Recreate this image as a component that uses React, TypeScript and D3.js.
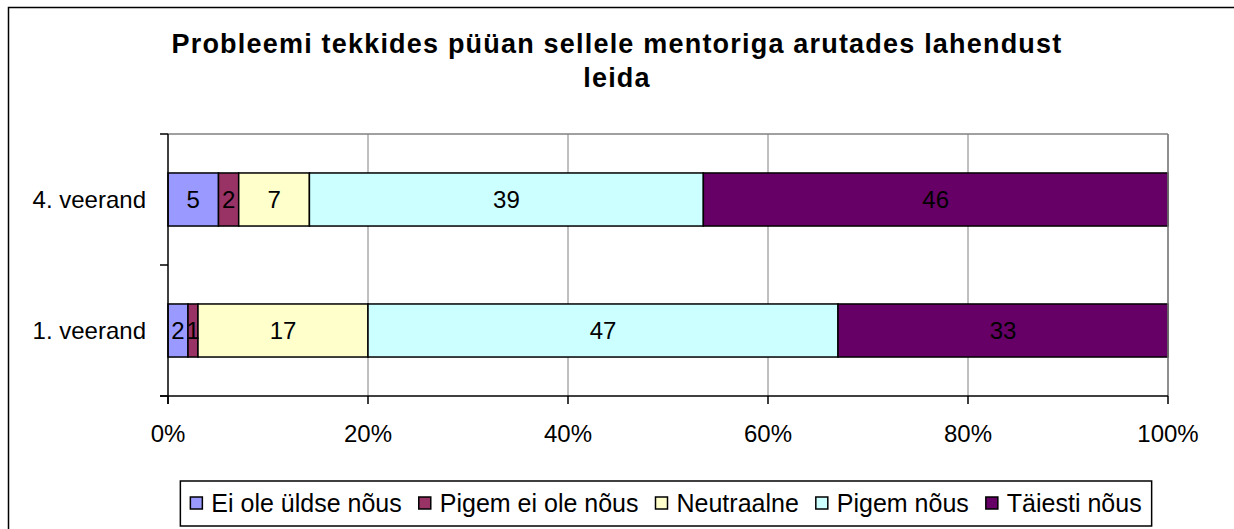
import React, { useEffect, useRef } from 'react';
import * as d3 from 'd3';

// categories, top to bottom
const categories = ['4. veerand', '1. veerand'];
const seriesNames = ['Ei ole üldse nõus', 'Pigem ei ole nõus', 'Neutraalne', 'Pigem nõus', 'Täiesti nõus'];
const seriesColors = ['#9999FF', '#993366', '#FFFFCC', '#CCFFFF', '#660066'];
// values per category, in series order
const values4 = [5, 2, 7, 39, 46];
const values1 = [2, 1, 17, 47, 33];
const tickValues = [0, 0.2, 0.4, 0.6, 0.8, 1];

const titleLines = ['Probleemi tekkides püüan sellele mentoriga arutades lahendust', 'leida'];

const W = 1234;
const H = 529;
const FONT = '"Liberation Sans", Arial, sans-serif';

const App = () => {
  const svgRef = useRef<SVGSVGElement>(null);

  useEffect(() => {
    const svg = d3.select(svgRef.current);
    svg.selectAll('*').remove();

    const plot = { left: 168, right: 1168, top: 134, bottom: 396 };

    svg.append('rect')
      .attr('x', 8.5).attr('y', 7.5)
      .attr('width', 1260).attr('height', 560)
      .attr('fill', 'white').attr('stroke', 'black').attr('stroke-width', 1.5);

    // title
    svg.append('g').selectAll('text')
      .data(titleLines)
      .enter()
      .append('text')
      .attr('x', 617)
      .attr('y', (d, i) => 53 + i * 34)
      .attr('text-anchor', 'middle')
      .style('font-family', FONT)
      .style('font-weight', 'bold')
      .style('font-size', '27px')
      .style('letter-spacing', '1.2px')
      .text(d => d);

    const x = d3.scaleLinear().domain([0, 1]).range([plot.left, plot.right]);
    const y = d3.scaleBand<string>()
      .domain(categories)
      .range([plot.top, plot.bottom])
      .paddingInner(0.595)
      .paddingOuter(0.2975);

    // gridlines
    svg.append('g').selectAll('line')
      .data(tickValues.slice(1))
      .enter()
      .append('line')
      .attr('x1', d => x(d)).attr('x2', d => x(d))
      .attr('y1', plot.top).attr('y2', plot.bottom)
      .attr('stroke', '#808080').attr('stroke-width', 1);

    svg.append('line')
      .attr('x1', plot.left).attr('x2', plot.right)
      .attr('y1', plot.top).attr('y2', plot.top)
      .attr('stroke', '#808080').attr('stroke-width', 1.5);

    const rows = [values4, values1];
    const data = categories.map((c, i) => {
      const vals = rows[i];
      const total = d3.sum(vals);
      let acc = 0;
      return vals.map((v, j) => {
        const seg = { cat: c, v, j, x0: acc / total, x1: (acc + v) / total };
        acc += v;
        return seg;
      });
    }).flat();

    const bars = svg.append('g');
    bars.selectAll('rect')
      .data(data)
      .enter()
      .append('rect')
      .attr('x', d => x(d.x0))
      .attr('y', d => y(d.cat)!)
      .attr('width', d => x(d.x1) - x(d.x0))
      .attr('height', y.bandwidth())
      .attr('fill', d => seriesColors[d.j])
      .attr('stroke', 'black')
      .attr('stroke-width', 1.5);

    bars.selectAll('text')
      .data(data)
      .enter()
      .append('text')
      .attr('x', d => (x(d.x0) + x(d.x1)) / 2)
      .attr('y', d => y(d.cat)! + y.bandwidth() / 2 + 8)
      .attr('text-anchor', 'middle')
      .style('font-family', FONT)
      .style('font-size', '24px')
      .text(d => d.v);

    // axes
    svg.append('line')
      .attr('x1', plot.left).attr('x2', plot.left)
      .attr('y1', plot.top).attr('y2', plot.bottom + 8)
      .attr('stroke', 'black').attr('stroke-width', 1.5);
    svg.append('line')
      .attr('x1', plot.right).attr('x2', plot.right)
      .attr('y1', plot.top).attr('y2', plot.bottom)
      .attr('stroke', '#808080').attr('stroke-width', 1.5);
    svg.append('line')
      .attr('x1', plot.left - 8).attr('x2', plot.right)
      .attr('y1', plot.bottom).attr('y2', plot.bottom)
      .attr('stroke', 'black').attr('stroke-width', 1.5);

    const catTicks = [plot.top, ...categories.slice(1).map(c => y(c)! - (y.step() - y.bandwidth()) / 2), plot.bottom];
    svg.append('g').selectAll('line')
      .data(catTicks)
      .enter()
      .append('line')
      .attr('x1', plot.left - 8).attr('x2', plot.left)
      .attr('y1', d => d).attr('y2', d => d)
      .attr('stroke', 'black').attr('stroke-width', 1.5);

    svg.append('g').selectAll('line')
      .data(tickValues)
      .enter()
      .append('line')
      .attr('x1', d => x(d)).attr('x2', d => x(d))
      .attr('y1', plot.bottom).attr('y2', plot.bottom + 8)
      .attr('stroke', 'black').attr('stroke-width', 1.5);

    svg.append('g').selectAll('text')
      .data(tickValues)
      .enter()
      .append('text')
      .attr('x', d => x(d))
      .attr('y', 442)
      .attr('text-anchor', 'middle')
      .style('font-family', FONT)
      .style('font-size', '24px')
      .text(d => d3.format('.0%')(d));

    svg.append('g').selectAll('text')
      .data(categories)
      .enter()
      .append('text')
      .attr('x', 146)
      .attr('y', d => y(d)! + y.bandwidth() / 2 + 8)
      .attr('text-anchor', 'end')
      .style('font-family', FONT)
      .style('font-size', '24px')
      .text(d => d);

    // legend
    const legend = svg.append('g');
    const box = legend.append('rect')
      .attr('y', 481).attr('height', 45)
      .attr('fill', 'white').attr('stroke', 'black').attr('stroke-width', 1.5);
    let cx = 0;
    const items = legend.append('g');
    seriesNames.forEach((name, i) => {
      const g = items.append('g').attr('transform', `translate(${cx},0)`);
      g.append('rect')
        .attr('x', 0).attr('y', 497)
        .attr('width', 12).attr('height', 12)
        .attr('fill', seriesColors[i]).attr('stroke', 'black').attr('stroke-width', 1.5);
      const t = g.append('text')
        .attr('x', 21).attr('y', 512)
        .style('font-family', FONT)
        .style('font-size', '25px')
        .text(name);
      const w = (t.node() as SVGTextElement).getComputedTextLength();
      cx += 21 + w + 17;
    });
    const itemsW = cx - 17;
    const left = 666 - itemsW / 2;
    items.attr('transform', `translate(${left},0)`);
    box.attr('x', left - 10).attr('width', itemsW + 20);
  }, []);

  return (
    <svg ref={svgRef} width={W} height={H} style={{ position: 'absolute', left: 0, top: 0, background: 'white' }}></svg>
  );
};

export default App;
